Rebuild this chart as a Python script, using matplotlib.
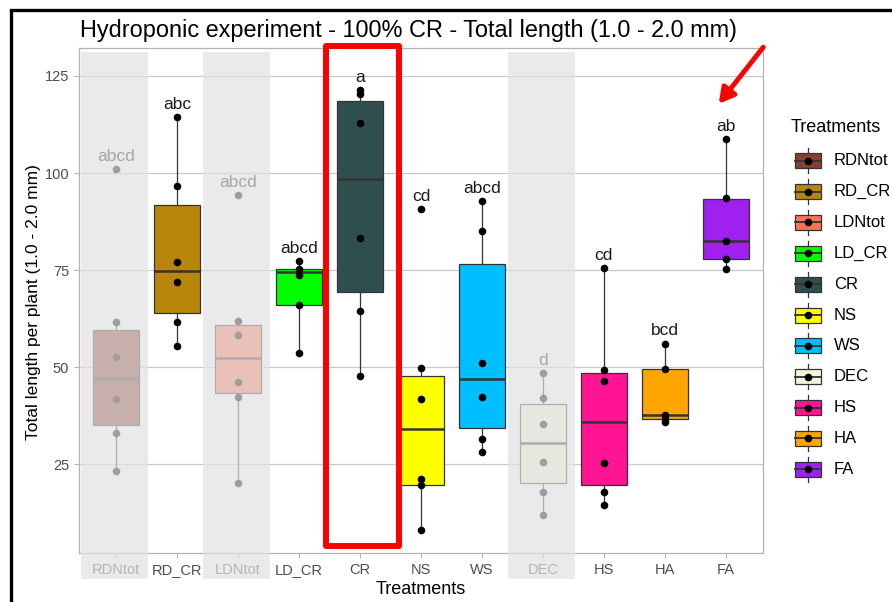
import numpy as np
import matplotlib
matplotlib.use('Agg')
import matplotlib.pyplot as plt
from matplotlib.patches import Rectangle
from matplotlib.transforms import blended_transform_factory

plt.rcParams['font.family'] = ['Liberation Sans', 'DejaVu Sans']

# Treatments and colours
treatments = ['RDNtot', 'RD_CR', 'LDNtot', 'LD_CR', 'CR', 'NS', 'WS', 'DEC', 'HS', 'HA', 'FA']
fills = ['#8B3E2F', '#B8860B', '#FF7256', '#00FF00', '#2F4F4F', '#FFFF00',
         '#00BFFF', '#F5F5DC', '#FF1493', '#FFA500', '#A020F0']
letters = ['abcd', 'abc', 'abcd', 'abcd', 'a', 'cd', 'abcd', 'd', 'cd', 'bcd', 'ab']
greyed = ['RDNtot', 'LDNtot', 'DEC']

# Total length per plant, one list per treatment
rdntot = [101.0, 61.6, 52.7, 41.9, 33.0, 23.3]
rd_cr = [114.5, 96.6, 77.2, 72.0, 61.6, 55.4]
ldntot = [94.4, 61.9, 58.2, 46.1, 42.3, 20.2]
ld_cr = [77.3, 75.3, 73.8, 66.1, 53.8]
cr = [121.3, 120.4, 112.8, 83.4, 64.4, 47.7]
ns = [90.7, 49.7, 41.9, 21.3, 19.6, 8.1]
ws = [92.7, 85.1, 51.1, 42.3, 31.6, 28.2]
dec = [48.5, 42.2, 35.3, 25.7, 18.0, 11.9]
hs = [75.5, 49.2, 46.4, 25.4, 18.0, 14.6]
ha = [56.1, 49.5, 37.6, 36.8, 35.9]
fa = [108.8, 93.5, 82.6, 78.0, 75.3]
points = [rdntot, rd_cr, ldntot, ld_cr, cr, ns, ws, dec, hs, ha, fa]

# boxplot summary per treatment
q1 = [35.1, 64.0, 43.4, 66.1, 69.3, 19.8, 34.5, 20.2, 19.8, 36.8, 77.8]
med = [47.2, 74.7, 52.5, 74.6, 98.5, 34.0, 46.9, 30.6, 35.9, 37.6, 82.6]
q3 = [59.5, 91.8, 60.9, 75.3, 118.6, 47.8, 76.5, 40.5, 48.5, 49.5, 93.3]
whis_lo = [23.3, 55.4, 20.2, 53.8, 47.7, 8.1, 28.2, 11.9, 14.6, 35.9, 75.3]
whis_hi = [61.6, 114.5, 61.9, 77.3, 121.3, 49.7, 92.7, 48.5, 75.5, 56.1, 108.8]

W, H = 892, 602
fig = plt.figure(figsize=(W / 100, H / 100), dpi=100)
ax = fig.add_axes([79 / W, (H - 553) / H, (763 - 79) / W, (553 - 48) / H])

pos = np.arange(1, len(treatments) + 1)
stats = [dict(med=m, q1=a, q3=b, whislo=lo, whishi=hi, fliers=[])
         for m, a, b, lo, hi in zip(med, q1, q3, whis_lo, whis_hi)]
bp = ax.bxp(stats, positions=pos, widths=0.75, showfliers=False, showcaps=False,
            patch_artist=True,
            boxprops=dict(edgecolor='#333333', linewidth=0.9),
            whiskerprops=dict(color='#333333', linewidth=0.9),
            medianprops=dict(color='#333333', linewidth=1.8))
for box, c in zip(bp['boxes'], fills):
    box.set_facecolor(c)

for x, pts in zip(pos, points):
    ax.scatter([x] * len(pts), pts, s=30, color='black', zorder=4, linewidths=0)

for x, pts, lab in zip(pos, points, letters):
    ax.text(x, max(pts) + 2.1, lab, ha='center', va='baseline', fontsize=12.5,
            color='#1A1A1A', zorder=5)

ax.set_xlim(0.39, 11.61)
ax.set_ylim(2.2, 132.2)
ax.set_xticks(pos)
ax.set_xticklabels(treatments)
ax.set_yticks([25, 50, 75, 100, 125])
ax.yaxis.grid(True, color='#C8C8C8', linewidth=0.9)
ax.set_axisbelow(True)
ax.tick_params(colors='#B3B3B3', length=3.5, width=0.8, labelcolor='#4D4D4D',
               labelsize=10.5)
for sp in ax.spines.values():
    sp.set_color('#B3B3B3')
    sp.set_linewidth(0.9)

# translucent grey bands over the excluded treatments
tr = blended_transform_factory(ax.transData, ax.transAxes)
for i, t in enumerate(treatments):
    if t in greyed:
        ax.add_patch(Rectangle((pos[i] - 0.58, -0.0515), 1.1, 1.044, transform=tr,
                               facecolor='#E2E2E2', alpha=0.7, edgecolor='none',
                               clip_on=False, zorder=10))

# highlight around CR
k = treatments.index('CR')
ax.add_patch(Rectangle((pos[k] - 0.565, 0.014), 1.205, 0.989, transform=tr,
                       fill=False, edgecolor='#FF0000', linewidth=4.3,
                       joinstyle='round', clip_on=False, zorder=11))

fig.text(80 / W, 1 - 30 / H, 'Hydroponic experiment - 100% CR - Total length (1.0 - 2.0 mm)',
         ha='left', va='center', fontsize=16.9, color='black')
fig.text(34 / W, 1 - 302 / H, 'Total length per plant (1.0 - 2.0 mm)', rotation=90,
         ha='center', va='center', fontsize=12.5, color='black')
fig.text(421 / W, 1 - 590 / H, 'Treatments', ha='center', va='center', fontsize=13,
         color='black')

# overlay in pixel coordinates: legend, arrow, frame
lax = fig.add_axes([0, 0, 1, 1], zorder=5)
lax.set_xlim(0, W)
lax.set_ylim(H, 0)
lax.axis('off')
lax.patch.set_alpha(0)

lax.text(791, 128, 'Treatments', ha='left', va='center', fontsize=13, color='black')
for i, (t, c) in enumerate(zip(treatments, fills)):
    yc = 160.7 + i * 30.86
    lax.plot([808, 808], [yc - 12.5, yc + 12.5], color='#333333', lw=0.9)
    lax.add_patch(Rectangle((795, yc - 7.5), 26, 15, facecolor=c, edgecolor='#333333',
                            linewidth=0.9, zorder=3))
    lax.plot([795, 821], [yc, yc], color='#333333', lw=1.3, zorder=4)
    lax.plot(808, yc, 'o', color='black', ms=4.5, zorder=5)
    lax.text(834, yc, t, ha='left', va='center', fontsize=12, color='black')

lax.annotate('', xy=(717, 106), xytext=(765, 45),
             arrowprops=dict(arrowstyle='-|>,head_length=0.9,head_width=0.5',
                             color='#FF0000', lw=3.5))

lax.plot([11, 11], [10, H], color='black', lw=2.4, solid_capstyle='butt')
lax.plot([11, W], [10, 10], color='black', lw=2.4, solid_capstyle='projecting')

fig.savefig('out.png', dpi=100)
